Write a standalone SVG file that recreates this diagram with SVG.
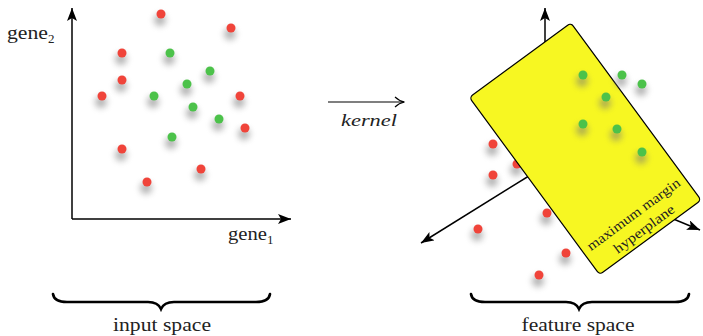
<svg xmlns="http://www.w3.org/2000/svg" width="703" height="336" viewBox="0 0 703 336">
<defs>
<style>
.ax{stroke:#000;stroke-width:1.5;fill:none}
.lbl{font-family:"Liberation Serif","DejaVu Serif",serif;fill:#222}
.r{fill:#f0443a}
.g{fill:#4cc24a}
.sh{fill:#777;opacity:0.55;filter:url(#blur)}
.brace{stroke:#000;stroke-width:2.6;fill:none;stroke-linecap:round}
</style>
<filter id="blur" x="-100%" y="-100%" width="300%" height="300%"><feGaussianBlur stdDeviation="3"/></filter>
<marker id="ah" markerWidth="14" markerHeight="12" refX="13" refY="5" orient="auto" markerUnits="userSpaceOnUse"><path d="M0,0 L13,5 L0,10 L3,5 Z" fill="#000"/></marker>
<g id="rd"><circle class="sh" cx="-1" cy="6" r="6"/><circle class="r" r="4.5"/></g>
<g id="gd"><circle class="sh" cx="-1" cy="6" r="6"/><circle class="g" r="4.5"/></g>
</defs>
<rect width="703" height="336" fill="#fff"/>

<g id="connectors">
<line class="ax" x1="72" y1="219" x2="72" y2="8" marker-end="url(#ah)"/>
<line class="ax" x1="72" y1="219" x2="291" y2="219" marker-end="url(#ah)"/>
<line class="ax" x1="545" y1="166" x2="545" y2="8" marker-end="url(#ah)"/>
<line class="ax" x1="545" y1="166" x2="421" y2="243" marker-end="url(#ah)"/>
<line class="ax" x1="545" y1="166" x2="700" y2="230" marker-end="url(#ah)"/>
<line x1="328" y1="102" x2="404" y2="102" stroke="#000" stroke-width="1.2"/>
<path d="M395,97 Q399,101 404.5,102 Q399,103 395,107" stroke="#000" stroke-width="1.1" fill="none"/>
</g>

<g id="input-labels">
<text class="lbl" x="7" y="39" font-size="19" textLength="41" lengthAdjust="spacingAndGlyphs">gene</text>
<text class="lbl" x="48" y="43" font-size="13">2</text>
<text class="lbl" x="228" y="240" font-size="19" textLength="39" lengthAdjust="spacingAndGlyphs">gene</text>
<text class="lbl" x="267" y="244" font-size="13">1</text>
<text class="lbl" x="369" y="126" font-size="17" font-style="italic" text-anchor="middle" textLength="56" lengthAdjust="spacingAndGlyphs">kernel</text>
</g>

<g id="input-points">
<use href="#rd" x="161" y="14"/><use href="#rd" x="231" y="28"/><use href="#rd" x="122" y="53"/>
<use href="#rd" x="122" y="80"/><use href="#rd" x="102" y="96"/><use href="#rd" x="240" y="96"/>
<use href="#rd" x="245" y="128"/><use href="#rd" x="122" y="149"/><use href="#rd" x="147" y="182"/>
<use href="#rd" x="201" y="169"/>
<use href="#gd" x="170" y="53"/><use href="#gd" x="210" y="71"/><use href="#gd" x="187" y="84"/>
<use href="#gd" x="154" y="96"/><use href="#gd" x="193" y="107"/><use href="#gd" x="219" y="119"/>
<use href="#gd" x="172" y="137"/>
</g>

<g id="feature-red-points">
<use href="#rd" x="493" y="144"/><use href="#rd" x="517" y="164"/><use href="#rd" x="493" y="175"/>
<use href="#rd" x="547" y="213"/><use href="#rd" x="478" y="229"/><use href="#rd" x="566" y="253"/>
<use href="#rd" x="539" y="275"/>
</g>

<g id="hyperplane" transform="translate(585.25,148.75) rotate(-36.3)">
<rect x="-63" y="-110" width="126" height="220" rx="4" fill="#f7f722" stroke="#000" stroke-width="1.2"/>
<text class="lbl" x="0" y="86" font-size="14" text-anchor="middle" textLength="112" lengthAdjust="spacingAndGlyphs">maximum margin</text>
<text class="lbl" x="0" y="104" font-size="14" text-anchor="middle" textLength="72" lengthAdjust="spacingAndGlyphs">hyperplane</text>
</g>

<g id="feature-green-points">
<use href="#gd" x="583" y="75"/><use href="#gd" x="622" y="75"/><use href="#gd" x="642" y="84"/>
<use href="#gd" x="606" y="97"/><use href="#gd" x="583" y="124"/><use href="#gd" x="617" y="129"/>
<use href="#gd" x="642" y="152"/>
</g>

<g id="input-space">
<path class="brace" d="M53,294 Q54,302 67,302 L148,302 Q158,302 161,309 Q164,302 174,302 L256,302 Q269,302 270,294"/>
<text class="lbl" x="162" y="331" font-size="18" text-anchor="middle" textLength="98" lengthAdjust="spacingAndGlyphs">input space</text>
</g>
<g id="feature-space">
<path class="brace" d="M471,294 Q472,302 485,302 L566,302 Q576,302 579,309 Q582,302 592,302 L675,302 Q688,302 689,294"/>
<text class="lbl" x="578" y="331" font-size="18" text-anchor="middle" textLength="113" lengthAdjust="spacingAndGlyphs">feature space</text>
</g>
</svg>
